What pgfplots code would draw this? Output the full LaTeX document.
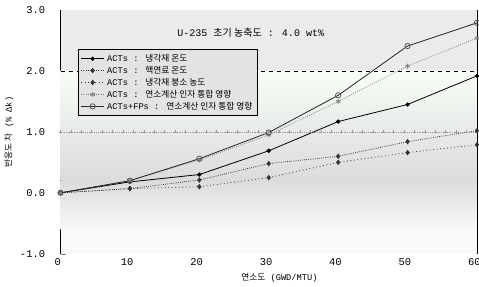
\documentclass[border=0pt]{standalone}
\usepackage{fontspec}
\setmainfont{Liberation Mono}
\newfontfamily\kr{Noto Sans CJK KR}
\usepackage{pgfplots}
\pgfplotsset{compat=1.18}
\begin{document}
\begin{tikzpicture}
\begin{axis}[
  scale only axis,
  width=311pt, height=182pt,
  xmin=0, xmax=60, ymin=-1, ymax=3,
  xtick={0,10,...,60}, ytick={-1,0,1,2,3},
  minor x tick num=4, minor y tick num=4,
  tick align=inside, tick pos=left,
  major tick length=4pt, minor tick length=2.5pt,
  yticklabel style={/pgf/number format/fixed, /pgf/number format/fixed zerofill, /pgf/number format/precision=1, xshift=-8pt},
  xticklabel style={xshift=-2pt},
  /pgf/number format/assume math mode=true,
  ticklabel style={font=\fontsize{7.8}{8}\selectfont},
  xlabel={{\kr 연소도} (GWD/MTU)},
  ylabel={{\kr 반응도 차} (\% Δk)},
  label style={font=\fontsize{6.5}{7}\selectfont},
  xlabel style={yshift=1pt, xshift=8pt},
  ylabel style={yshift=-2pt},
  axis line style={line width=0.8pt},
  legend cell align=left,
  legend style={at={(0.043,0.84)}, anchor=north west, draw=black, line width=0.6pt,
    fill=gray!22, font=\fontsize{6.5}{7.5}\selectfont, row sep=-2pt, inner sep=1.5pt},
  legend image post style={line width=0.6pt},
]
\fill[gray!16] (axis cs:0,2) rectangle (axis cs:60,3);
\shade[top color=gray!36!green!4, bottom color=gray!28] (axis cs:0,0.2) rectangle (axis cs:60,2);
\shade[top color=gray!28, bottom color=gray!5] (axis cs:0,-0.6) rectangle (axis cs:60,0.2);
\fill[gray!5] (axis cs:0,-1) rectangle (axis cs:60,-0.6);
\addplot[forget plot, black, dashed, line width=0.6pt] coordinates {(0,2) (60,2)};
\addplot[forget plot, gray!80, densely dotted, mark=+, mark size=1.1pt, mark options={solid}] coordinates {
(0,1)(1.5,1)(3,1)(4.5,1)(6,1)(7.5,1)(9,1)(10.5,1)(12,1)(13.5,1)(15,1)(16.5,1)(18,1)(19.5,1)(21,1)(22.5,1)(24,1)(25.5,1)(27,1)(28.5,1)(30,1)(31.5,1)(33,1)(34.5,1)(36,1)(37.5,1)(39,1)(40.5,1)(42,1)(43.5,1)(45,1)(46.5,1)(48,1)(49.5,1)(51,1)(52.5,1)(54,1)(55.5,1)(57,1)(58.5,1)(60,1)};
\addplot[black, line width=0.6pt, mark=*, mark size=1.3pt] coordinates {
(0,0)(10,0.18)(20,0.30)(30,0.69)(40,1.17)(50,1.45)(60,1.92)};
\addlegendentry{ACTs : {\kr 냉각재 온도}}
\addplot[black!80, densely dotted, line width=0.6pt, mark=diamond*, mark size=1.6pt, mark options={solid}] coordinates {
(0,0)(10,0.07)(20,0.21)(30,0.48)(40,0.60)(50,0.84)(60,1.02)};
\addlegendentry{ACTs : {\kr 핵연료 온도}}
\addplot[black!80, dotted, line width=0.6pt, mark=diamond*, mark size=1.6pt, mark options={solid}] coordinates {
(0,0)(10,0.07)(20,0.10)(30,0.25)(40,0.50)(50,0.66)(60,0.79)};
\addlegendentry{ACTs : {\kr 냉각재 붕소 농도}}
\addplot[gray, densely dotted, line width=0.6pt, mark=asterisk, mark size=1.8pt, mark options={solid}] coordinates {
(0,0)(10,0.20)(20,0.54)(30,0.95)(40,1.50)(50,2.08)(60,2.54)};
\addlegendentry{ACTs : {\kr 연소계산 인자 통합 영향}}
\addplot[black!85, line width=0.6pt, mark=o, mark size=2pt, mark options={gray!70!black, fill=gray!40}] coordinates {
(0,0)(10,0.20)(20,0.56)(30,0.99)(40,1.60)(50,2.41)(60,2.79)};
\addlegendentry{ACTs+FPs : {\kr 연소계산 인자 통합 영향}}
\node[font=\fontsize{7.5}{8}\selectfont] at (axis cs:27.4,2.62) {U-235 {\kr 초기 농축도} : 4.0 wt\%};
\end{axis}
\pgfresetboundingbox
\path (current axis.outer south west) rectangle (current axis.outer north east -| current axis.east);
\path ([xshift=1.5pt, yshift=7.5pt]current axis.north east);
\end{tikzpicture}
\end{document}
